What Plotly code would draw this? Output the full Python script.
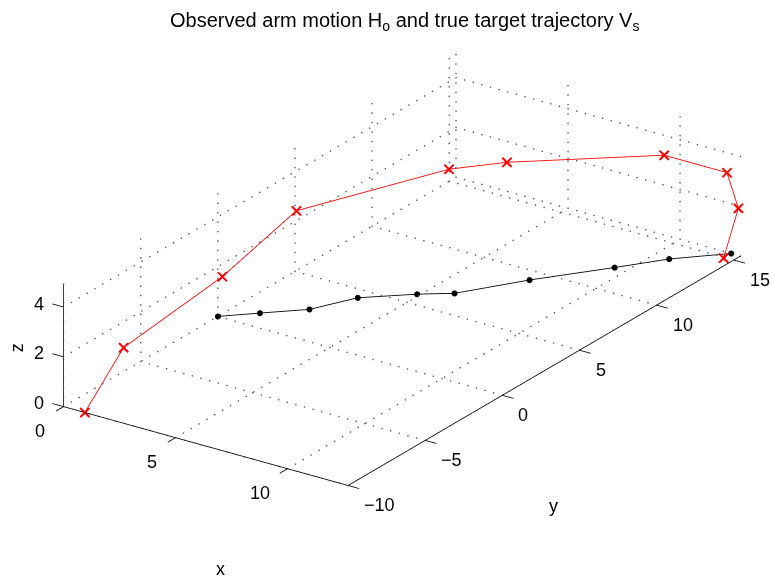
import plotly.graph_objects as go

# ---------------- data ----------------
# Observed arm motion H_o (black dots) - lies in the z = 0 plane
ho_x = [0.0, 1.10, 2.41, 3.27, 4.88, 5.97, 7.55, 9.48, 10.69, 12.28]
ho_y = [0.0, 1.13, 2.44, 4.32, 5.83, 6.67, 9.24, 11.95, 13.73, 15.44]
ho_z = [0.0, 0.0, 0.0, 0.0, 0.0, 0.0, 0.0, 0.0, 0.0, 0.0]

# True target trajectory V_s (red crosses)
vs_x = [0.95, 1.02, 1.43, 1.55, 4.92, 6.83, 11.51, 12.61, 12.70, 12.42]
vs_y = [-10.0, -7.59, -1.78, 2.84, 7.84, 8.82, 12.22, 14.69, 15.30, 14.75]
vs_z = [0.0, 1.75, 2.60, 3.60, 4.30, 4.70, 4.92, 3.60, 1.97, 0.10]

x_ticks = [0, 5, 10]
y_ticks = [-10, -5, 0, 5, 10, 15]
z_ticks = [0, 2, 4]

title_text = "Observed arm motion H<sub>o</sub> and true target trajectory V<sub>s</sub>"

# ---------------- axis limits ("axis tight") ----------------
xmin, xmax = min(ho_x + vs_x), max(ho_x + vs_x)
ymin, ymax = min(ho_y + vs_y), max(ho_y + vs_y)
zmin, zmax = min(ho_z + vs_z), max(ho_z + vs_z)

TL = 0.5  # tick length in data units
FONT = "Liberation Sans, Arial, Helvetica, sans-serif"
DOT_STEP = {"x": 0.38, "y": 0.50, "z": 0.36}  # dotted-grid spacing (data units)


def segs(pairs):
    xs, ys, zs = [], [], []
    for a, b in pairs:
        xs += [a[0], b[0], None]
        ys += [a[1], b[1], None]
        zs += [a[2], b[2], None]
    return xs, ys, zs


def dotted(pairs):
    """Dotted grid: points spaced along each grid segment."""
    xs, ys, zs = [], [], []
    for a, b, ax in pairs:
        length = max(abs(b[i] - a[i]) for i in range(3))
        n = max(1, int(length / DOT_STEP[ax]))
        for k in range(n + 1):
            t = k / n
            xs.append(a[0] + (b[0] - a[0]) * t)
            ys.append(a[1] + (b[1] - a[1]) * t)
            zs.append(a[2] + (b[2] - a[2]) * t)
    return xs, ys, zs


# dotted grid on the three back planes
grid = []
for yt in y_ticks:
    grid.append(((xmin, yt, zmin), (xmin, yt, zmax), "z"))
    grid.append(((xmin, yt, zmin), (xmax, yt, zmin), "x"))
for zt in z_ticks:
    grid.append(((xmin, ymin, zt), (xmin, ymax, zt), "y"))
    grid.append(((xmin, ymax, zt), (xmax, ymax, zt), "x"))
for xt in x_ticks:
    grid.append(((xt, ymax, zmin), (xt, ymax, zmax), "z"))
    grid.append(((xt, ymin, zmin), (xt, ymax, zmin), "y"))
gx, gy, gz = dotted(grid)

# axis lines + tick marks
axl = [((xmin, ymin, zmin), (xmax, ymin, zmin)),
       ((xmax, ymin, zmin), (xmax, ymax, zmin)),
       ((xmin, ymin, zmin), (xmin, ymin, zmax))]
for xt in x_ticks:
    axl.append(((xt, ymin, zmin), (xt, ymin - TL, zmin)))
for yt in y_ticks:
    axl.append(((xmax, yt, zmin), (xmax + TL, yt, zmin)))
for zt in z_ticks:
    axl.append(((xmin, ymin, zt), (xmin - TL, ymin, zt)))
ax_x, ax_y, ax_z = segs(axl)

fig = go.Figure()
fig.add_trace(go.Scatter3d(x=gx, y=gy, z=gz, mode="markers",
                           marker=dict(color="#555555", size=0.9, line=dict(width=0)),
                           hoverinfo="skip", showlegend=False))
fig.add_trace(go.Scatter3d(x=ax_x, y=ax_y, z=ax_z, mode="lines",
                           line=dict(color="black", width=1.6),
                           hoverinfo="skip", showlegend=False))
fig.add_trace(go.Scatter3d(x=vs_x, y=vs_y, z=vs_z, mode="lines+markers",
                           line=dict(color="red", width=1.7),
                           marker=dict(symbol="x", size=2.3, color="red"),
                           name="V_s", showlegend=False))
fig.add_trace(go.Scatter3d(x=ho_x, y=ho_y, z=ho_z, mode="lines+markers",
                           line=dict(color="black", width=1.7),
                           marker=dict(symbol="circle", size=3.5, color="black"),
                           name="H_o", showlegend=False))

tick_font = dict(family=FONT, size=18, color="black")
ann = []
for xt in x_ticks:
    ann.append(dict(x=xt, y=ymin - TL, z=zmin, text=str(xt), showarrow=False,
                    xanchor="right", yanchor="middle", xshift=-8, yshift=-20,
                    font=tick_font))
for yt in y_ticks:
    ann.append(dict(x=xmax + TL, y=yt, z=zmin, text=str(yt).replace("-", "\u2212"),
                    showarrow=False, xanchor="left", yanchor="middle",
                    xshift=3, yshift=-17, font=tick_font))
for zt in z_ticks:
    ann.append(dict(x=xmin - TL, y=ymin, z=zt, text=str(zt), showarrow=False,
                    xanchor="right", yanchor="middle", xshift=-6, yshift=0,
                    font=tick_font))

hidden = dict(visible=False, showspikes=False)
L = 2.4
eye = dict(x=0.5192 * L, y=-0.7539 * L, z=0.4026 * L)

fig.update_layout(
    width=774, height=579,
    margin=dict(l=0, r=0, t=0, b=0),
    paper_bgcolor="white",
    showlegend=False,
    scene=dict(
        domain=dict(x=[0.0382, 1.0], y=[0.0612, 1.0]),
        xaxis=dict(range=[-1, 14], **hidden),
        yaxis=dict(range=[-11.5, 16.5], **hidden),
        zaxis=dict(range=[-1, 6], **hidden),
        aspectmode="manual",
        aspectratio=dict(x=1.5, y=2.8, z=0.7),
        camera=dict(eye=eye, up=dict(x=0, y=0, z=1), center=dict(x=0, y=0, z=0),
                    projection=dict(type="orthographic")),
        bgcolor="white",
        annotations=ann,
    ),
    annotations=[
        dict(x=404 / 774, y=1 - 21 / 579, xref="paper", yref="paper", text=title_text,
             showarrow=False, xanchor="center", yanchor="middle",
             font=dict(family=FONT, size=20, color="black")),
        dict(x=220 / 774, y=1 - 568.5 / 579, xref="paper", yref="paper", text="x",
             showarrow=False, xanchor="center", yanchor="middle",
             font=dict(family=FONT, size=18, color="black")),
        dict(x=553.6 / 774, y=1 - 505.5 / 579, xref="paper", yref="paper", text="y",
             showarrow=False, xanchor="center", yanchor="middle",
             font=dict(family=FONT, size=18, color="black")),
        dict(x=17.3 / 774, y=1 - 348 / 579, xref="paper", yref="paper", text="z",
             showarrow=False, xanchor="center", yanchor="middle", textangle=-90,
             font=dict(family=FONT, size=18, color="black")),
    ],
)

fig.write_html("out.html")
